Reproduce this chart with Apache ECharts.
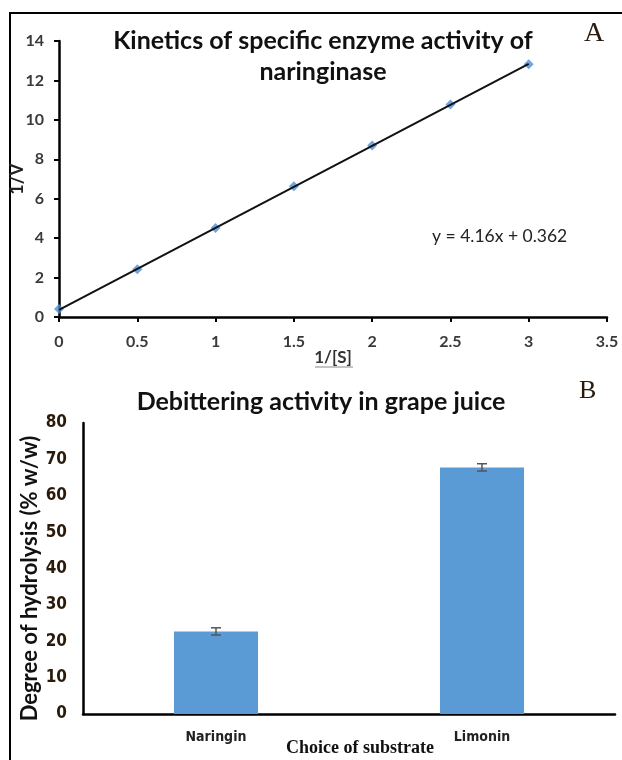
<!DOCTYPE html>
<html>
<head>
<meta charset="utf-8">
<script src="https://cdn.jsdelivr.net/npm/echarts@6/dist/echarts.min.js"></script>
<style>
  html, body { margin: 0; padding: 0; background: #fff; }
  #chart { width: 622px; height: 760px; }
</style>
</head>
<body>
<div id="chart"></div>
<script>
// Panel A: Lineweaver-Burk points
const invS = [0, 0.5, 1, 1.5, 2, 2.5, 3];
const invV = [0.40, 2.42, 4.52, 6.63, 8.70, 10.78, 12.82];
// trendline endpoints (y = 4.16x + 0.362)
const trendX = [0, 3];
const trendY = [0.362, 12.842];

// Panel B: debittering
const substrates = ['Naringin', 'Limonin'];
const hydrolysis = [22.7, 67.8];
const hydrolysisErr = [1.0, 1.0];

const chart = echarts.init(document.getElementById('chart'));

const calibri = 'Lato, "Open Sans", sans-serif';
const narrow = '"Liberation Sans Narrow", "DejaVu Sans Condensed", sans-serif';

const option = {
  animation: false,
  backgroundColor: '#fff',
  title: [
    {
      text: 'Kinetics of specific enzyme activity of\nnaringinase',
      left: 318, top: 20, textAlign: 'center',
      textStyle: { fontFamily: calibri, fontSize: 25, fontWeight: 'bold', color: '#111', lineHeight: 31 }
    },
    {
      text: 'Debittering activity in grape juice',
      left: 316, top: 384, textAlign: 'center',
      textStyle: { fontFamily: calibri, fontSize: 25, fontWeight: 'bold', color: '#111' }
    }
  ],
  graphic: [
    { type: 'line', shape: { x1: 9, y1: 13, x2: 622, y2: 13 }, style: { stroke: '#000', lineWidth: 2 } },
    { type: 'line', shape: { x1: 10, y1: 13, x2: 10, y2: 760 }, style: { stroke: '#000', lineWidth: 2 } },
    // faint underline below the x-axis name of panel A
    { type: 'line', shape: { x1: 315, y1: 367, x2: 353, y2: 367 }, style: { stroke: '#888', lineWidth: 1 } },
    { type: 'text', left: 584, top: 20, style: { text: 'A', font: '28px "Liberation Serif", serif', fill: '#2a1a0a' } },
    { type: 'text', left: 579, top: 378, style: { text: 'B', font: '26px "Liberation Serif", serif', fill: '#2a1a0a' } },
    { type: 'text', left: 432, top: 227, style: { text: 'y = 4.16x + 0.362', font: '17.5px ' + calibri, fill: '#222' } }
  ],
  grid: [
    { left: 59, right: 15, top: 41, bottom: 443, outerBoundsMode: 'none' },
    { left: 83, right: 7, top: 423, bottom: 46, outerBoundsMode: 'none' }
  ],
  xAxis: [
    {
      gridIndex: 0, type: 'value', min: 0, max: 3.5, interval: 0.5,
      name: '1/[S]', nameLocation: 'middle', nameGap: 32, nameMoveOverlap: false,
      nameTextStyle: { fontFamily: calibri, fontSize: 17, fontWeight: 'bold', color: '#333' },
      axisLine: { lineStyle: { color: '#000', width: 2.5 } },
      axisTick: { show: true, length: 5, lineStyle: { color: '#000', width: 2 } },
      axisLabel: { margin: 17, fontFamily: calibri, fontSize: 16, fontWeight: 'bold', color: '#3a3a3a' },
      splitLine: { show: false }
    },
    {
      gridIndex: 1, type: 'category', data: substrates,
      name: 'Choice of substrate', nameLocation: 'middle', nameGap: 25, nameMoveOverlap: false,
      nameTextStyle: { fontFamily: '"Liberation Serif", serif', fontSize: 18, fontWeight: 'bold', color: '#111', padding: [0, 0, 0, 22] },
      axisLine: { lineStyle: { color: '#000', width: 2.5 } },
      axisTick: { show: false },
      axisLabel: { margin: 16, fontFamily: narrow, fontSize: 14, fontWeight: 'bold', color: '#222' }
    }
  ],
  yAxis: [
    {
      gridIndex: 0, type: 'value', min: 0, max: 14, interval: 2,
      name: '1/V', nameLocation: 'middle', nameGap: 33, nameRotate: 90, nameMoveOverlap: false,
      nameTextStyle: { fontFamily: calibri, fontSize: 18, fontWeight: 'bold', color: '#222' },
      axisLine: { show: true, lineStyle: { color: '#000', width: 2.5 } },
      axisTick: { show: true, length: 5, lineStyle: { color: '#000', width: 2 } },
      axisLabel: { margin: 15, fontFamily: calibri, fontSize: 16, fontWeight: 'bold', color: '#3a3a3a' },
      splitLine: { show: false }
    },
    {
      gridIndex: 1, type: 'value', min: 0, max: 80, interval: 10,
      name: 'Degree of hydrolysis (% w/w)', nameLocation: 'middle', nameGap: 42, nameRotate: 90, nameMoveOverlap: false,
      nameTextStyle: { fontFamily: calibri, fontSize: 22, fontWeight: 'bold', color: '#111', padding: [0, 20, 0, 0] },
      axisLine: { show: true, lineStyle: { color: '#000', width: 2.5 } },
      axisTick: { show: false },
      axisLabel: { margin: 16, fontFamily: narrow, fontSize: 17, fontWeight: 'bold', color: '#2a1a0a' },
      splitLine: { show: false }
    }
  ],
  series: [
    {
      type: 'line', xAxisIndex: 0, yAxisIndex: 0,
      data: trendX.map((x, i) => [x, trendY[i]]),
      symbol: 'none', lineStyle: { color: '#111', width: 2 }, z: 3
    },
    {
      type: 'scatter', xAxisIndex: 0, yAxisIndex: 0,
      data: invS.map((x, i) => [x, invV[i]]),
      symbol: 'diamond', symbolSize: 10,
      itemStyle: { color: '#4f8fd8' }, z: 2
    },
    {
      type: 'bar', xAxisIndex: 1, yAxisIndex: 1,
      data: hydrolysis, barWidth: '31.6%',
      itemStyle: { color: '#5b9bd5' }
    },
    {
      type: 'custom', xAxisIndex: 1, yAxisIndex: 1,
      data: hydrolysis.map((v, i) => [i, v - hydrolysisErr[i], v + hydrolysisErr[i]]),
      renderItem: function (params, api) {
        const lo = api.coord([api.value(0), api.value(1)]);
        const hi = api.coord([api.value(0), api.value(2)]);
        const w = 5;
        const st = { stroke: '#555', lineWidth: 1.5 };
        return {
          type: 'group',
          children: [
            { type: 'line', shape: { x1: lo[0], y1: lo[1], x2: hi[0], y2: hi[1] }, style: st },
            { type: 'line', shape: { x1: lo[0] - w, y1: lo[1], x2: lo[0] + w, y2: lo[1] }, style: st },
            { type: 'line', shape: { x1: hi[0] - w, y1: hi[1], x2: hi[0] + w, y2: hi[1] }, style: st }
          ]
        };
      },
      z: 5
    }
  ]
};

chart.setOption(option);
</script>
</body>
</html>
